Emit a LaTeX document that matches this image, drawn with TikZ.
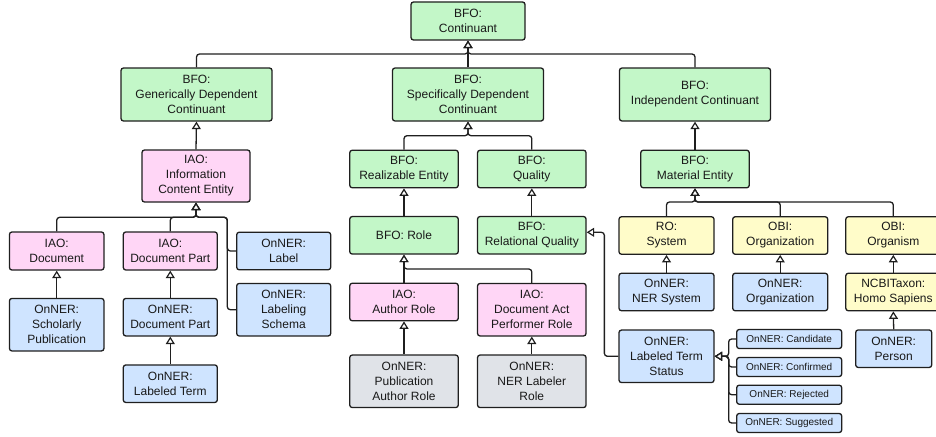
\documentclass[tikz,border=0pt]{standalone}
\usepackage{fontspec}
\setmainfont{Liberation Sans}
\usetikzlibrary{arrows.meta}
\definecolor{gn}{HTML}{C3F7C8}
\definecolor{pk}{HTML}{FFD6F6}
\definecolor{bl}{HTML}{CFE4FF}
\definecolor{yl}{HTML}{FFFCC9}
\definecolor{gy}{HTML}{E0E3E8}
\definecolor{ln}{HTML}{1F1F1F}
\tikzset{
  box/.style={draw=ln, line width=1.3pt, rounded corners=2.5pt, align=center, inner sep=0pt,
    text=black!90, font=\fontsize{12}{15}\selectfont},
  small/.style={box, fill=bl, minimum width=105, minimum height=19, font=\fontsize{10}{12}\selectfont},
  isa/.style={draw=ln, line width=1.3pt, rounded corners=3pt, -{Triangle[length=7.5pt,width=9pt,fill=white,line width=1.2pt]}}
}
\begin{document}
\begin{tikzpicture}[x=1pt,y=-1pt]
\useasboundingbox (0,0) rectangle (936,436);
% top
\node[box, fill=gn, minimum width=114, minimum height=38] (cont) at (468,21) {BFO:\\Continuant};
\node[box, fill=gn, minimum width=151, minimum height=53] (gdc) at (196.5,94.5) {BFO:\\Generically Dependent\\Continuant};
\node[box, fill=gn, minimum width=151, minimum height=53] (sdc) at (468,94.5) {BFO:\\Specifically Dependent\\Continuant};
\node[box, fill=gn, minimum width=151, minimum height=53] (ic) at (695,94.5) {BFO:\\Independent Continuant};
% level 3
\node[box, fill=pk, minimum width=108, minimum height=52] (ice) at (196,176) {IAO:\\Information\\Content Entity};
\node[box, fill=gn, minimum width=108.5, minimum height=37.5] (real) at (404,169) {BFO:\\Realizable Entity};
\node[box, fill=gn, minimum width=108.5, minimum height=37.5] (qual) at (531.8,169) {BFO:\\Quality};
\node[box, fill=gn, minimum width=108.5, minimum height=37.5] (mat) at (695,169) {BFO:\\Material Entity};
% left branch
\node[box, fill=pk, minimum width=94.5, minimum height=38] (doc) at (56.7,251) {IAO:\\Document};
\node[box, fill=pk, minimum width=94, minimum height=38] (dpart) at (170.3,251) {IAO:\\Document Part};
\node[box, fill=bl, minimum width=94, minimum height=37.5] (label) at (283.7,251) {OnNER:\\Label};
\node[box, fill=bl, minimum width=94, minimum height=52.5] (lschema) at (283.7,309.7) {OnNER:\\Labeling\\Schema};
\node[box, fill=bl, minimum width=94.5, minimum height=52.5] (schol) at (56.7,324.7) {OnNER:\\Scholarly\\Publication};
\node[box, fill=bl, minimum width=94, minimum height=37.5] (odpart) at (170.3,317.2) {OnNER:\\Document Part};
\node[box, fill=bl, minimum width=94, minimum height=37.5] (lterm) at (170.3,383.7) {OnNER:\\Labeled Term};
% middle branch
\node[box, fill=gn, minimum width=108.5, minimum height=37.5] (role) at (404,235.3) {BFO: Role};
\node[box, fill=gn, minimum width=108.5, minimum height=37.5] (relq) at (531.8,235.3) {BFO:\\Relational Quality};
\node[box, fill=pk, minimum width=108.5, minimum height=37.5] (arole) at (404,302) {IAO:\\Author Role};
\node[box, fill=pk, minimum width=108.5, minimum height=52.5] (dapr) at (531.8,309.7) {IAO:\\Document Act\\Performer Role};
\node[box, fill=gy, minimum width=108.5, minimum height=52.5] (parole) at (404,381.3) {OnNER:\\Publication\\Author Role};
\node[box, fill=gy, minimum width=108.5, minimum height=52.5] (nerl) at (531.8,381.3) {OnNER:\\NER Labeler\\Role};
% right branch
\node[box, fill=yl, minimum width=95, minimum height=37.5] (sys) at (666.5,235.5) {RO:\\System};
\node[box, fill=yl, minimum width=95, minimum height=37.5] (obiorg) at (780.2,235.5) {OBI:\\Organization};
\node[box, fill=yl, minimum width=95, minimum height=37.5] (orgm) at (893.3,235.5) {OBI:\\Organism};
\node[box, fill=bl, minimum width=95, minimum height=37.5] (nersys) at (666.5,292) {OnNER:\\NER System};
\node[box, fill=bl, minimum width=95, minimum height=37.5] (onorg) at (780.2,292) {OnNER:\\Organization};
\node[box, fill=yl, minimum width=95, minimum height=37.5] (homo) at (893.3,292) {NCBITaxon:\\Homo Sapiens};
\node[box, fill=bl, minimum width=76, minimum height=37.5] (person) at (893.7,348.7) {OnNER:\\Person};
\node[box, fill=bl, minimum width=95, minimum height=52.5] (lts) at (666.5,356.3) {OnNER:\\Labeled Term\\Status};
\node[small] (cand) at (789.2,339) {OnNER: Candidate};
\node[small] (conf) at (789.2,367) {OnNER: Confirmed};
\node[small] (rej) at (789.2,394.7) {OnNER: Rejected};
\node[small] (sug) at (789.2,423) {OnNER: Suggested};
% bus coordinates
\coordinate (b0) at (468,54);
\coordinate (b1) at (468,135.7);
\coordinate (b2) at (196,217.3);
\coordinate (b3) at (404,269);
\coordinate (b4) at (695,202);
\coordinate (bx) at (227.3,217.3);
% connectors
\draw[isa] (gdc.north) |- (b0) -- (cont.south);
\draw[isa] (ic.north) |- (b0) -- (cont.south);
\draw[isa] (sdc.north) -- (cont.south);
\draw[isa] (ice.north) -- (gdc.south);
\draw[isa] (real.north) |- (b1) -- (sdc.south);
\draw[isa] (qual.north) |- (b1) -- (sdc.south);
\draw[isa] (mat.north) -- (ic.south);
\draw[isa] (doc.north) |- (b2) -- (ice.south);
\draw[isa] (dpart.north) |- (b2) -- (ice.south);
\draw[isa] (label.west) -| (bx) -- (b2) -- (ice.south);
\draw[isa] (lschema.west) -| (bx) -- (b2) -- (ice.south);
\draw[isa] (schol.north) -- (doc.south);
\draw[isa] (odpart.north) -- (dpart.south);
\draw[isa] (lterm.north) -- (odpart.south);
\draw[isa] (role.north) -- (real.south);
\draw[isa] (relq.north) -- (qual.south);
\draw[isa] (arole.north) -- (role.south);
\draw[isa] (dapr.north) |- (b3) -- (role.south);
\draw[isa] (parole.north) -- (arole.south);
\draw[isa] (nerl.north) -- (dapr.south);
\draw[isa] (sys.north) |- (b4) -- (mat.south);
\draw[isa] (obiorg.north) |- (b4) -- (mat.south);
\draw[isa] (orgm.north) |- (b4) -- (mat.south);
\draw[isa] (nersys.north) -- (sys.south);
\draw[isa] (onorg.north) -- (obiorg.south);
\draw[isa] (homo.north) -- (orgm.south);
\draw[isa] (person.north) -- (homo.south);
\draw[isa] (lts.west) -- ++(-14,0) |- ([yshift=3pt]relq.east);
\foreach \s in {cand,conf,rej,sug}{
  \draw[isa] (\s.west) -| ([xshift=14pt]lts.east) -- (lts.east);
}
\end{tikzpicture}
\end{document}
